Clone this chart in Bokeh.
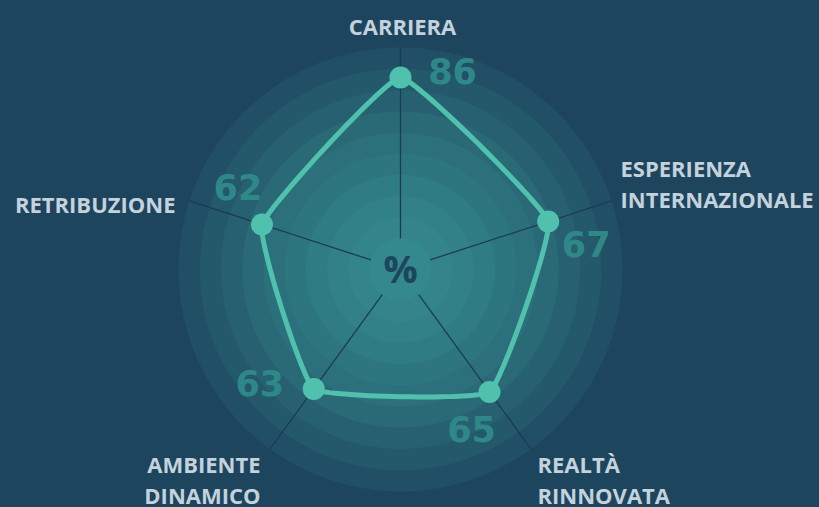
import numpy as np
from bokeh.plotting import figure
from bokeh.models import Range1d
from bokeh.embed import file_html
from bokeh.resources import INLINE
from bokeh.core.properties import value

# ---------------- data ----------------
categories = ["CARRIERA", "ESPERIENZA INTERNAZIONALE", "REALTÀ RINNOVATA",
              "AMBIENTE DINAMICO", "RETRIBUZIONE"]
label_lines = [["CARRIERA"], ["ESPERIENZA", "INTERNAZIONALE"], ["REALTÀ", "RINNOVATA"],
               ["AMBIENTE", "DINAMICO"], ["RETRIBUZIONE"]]
values = [86, 67, 65, 63, 62]
center_text = "%"

# ---------------- layout / style ----------------
W, H = 819, 507
BG = "#1e455e"
CX, CY = 400, 269
R0, K = 26.0, 1.93          # radial scale: r = R0 + K * value
R_IN, R_OUT = 31.0, 222.0
N_RINGS = 10
RING_COLOR = "#49b2a5"
LINE_COLOR = "#4fc1ad"
VAL_COLOR = "#2f8888"
LAB_COLOR = "#c3d2dc"
LAB_FONT = "Open Sans"
VAL_FONT = "DejaVu Sans"

# label anchors: (x, first line y, align)
label_anchor = [(402, 25, "center"), (620, 167, "left"), (537, 463, "left"),
                (260, 463, "right"), (175, 203, "right")]
LINE_STEP = 31
# value label offsets from the point (dx, dy)
val_offset = [(52, -7), (38, 22), (-18, 37), (-54, -6), (-24, -37)]

n = len(values)
angles = np.deg2rad(90 - 72 * np.arange(n))

def polar(r, a):
    return CX + r * np.cos(a), CY - r * np.sin(a)

p = figure(width=W, height=H, x_range=Range1d(0, W), y_range=Range1d(H, 0),
           output_backend="svg", toolbar_location=None,
           x_axis_type=None, y_axis_type=None, min_border=0,
           background_fill_color=BG, border_fill_color=BG, outline_line_color=None)
p.grid.visible = False

# concentric rings (stacked translucent discs)
radii = np.linspace(R_OUT, R_IN, N_RINGS)
for r in radii:
    p.circle(x=[CX], y=[CY], radius=r, fill_color=RING_COLOR, fill_alpha=0.1, line_color=None)

# spokes
sx0, sy0 = polar(R_IN, angles)
sx1, sy1 = polar(R_OUT, angles)
p.segment(x0=sx0, y0=sy0, x1=sx1, y1=sy1, line_color="#1b3c54", line_width=1.3)

# data polygon (closed cardinal spline)
rv = R0 + K * np.array(values, dtype=float)
px, py = polar(rv, angles)
pts = np.column_stack([px, py])

def cardinal_closed(P, tension=0.7, steps=30):
    out = []
    m = len(P)
    c = (1 - tension) / 2
    for i in range(m):
        p0, p1, p2, p3 = P[i - 1], P[i], P[(i + 1) % m], P[(i + 2) % m]
        m1 = c * (p2 - p0)
        m2 = c * (p3 - p1)
        for t in np.linspace(0, 1, steps, endpoint=False):
            h00 = 2 * t**3 - 3 * t**2 + 1
            h10 = t**3 - 2 * t**2 + t
            h01 = -2 * t**3 + 3 * t**2
            h11 = t**3 - t**2
            out.append(h00 * p1 + h10 * m1 + h01 * p2 + h11 * m2)
    out.append(out[0])
    return np.array(out)

curve = cardinal_closed(pts)
p.line(curve[:, 0], curve[:, 1], line_color=LINE_COLOR, line_width=5, line_join="round")
p.scatter(px, py, size=22, fill_color=LINE_COLOR, line_color=None)

# value labels
vx = [px[i] + val_offset[i][0] for i in range(n)]
vy = [py[i] + val_offset[i][1] for i in range(n)]
p.text(x=vx, y=vy, text=[str(v) for v in values], text_color=VAL_COLOR,
       text_font=value(VAL_FONT), text_font_style="bold", text_font_size="35px",
       text_align="center", text_baseline="alphabetic")

# category labels
for lines, (ax, ay, al) in zip(label_lines, label_anchor):
    p.text(x=[ax] * len(lines), y=[ay + LINE_STEP * j for j in range(len(lines))], text=lines,
           text_color=LAB_COLOR, text_font=value(LAB_FONT), text_font_style="bold",
           text_font_size="22px", text_align=al, text_baseline="alphabetic")

# center symbol
p.text(x=[CX], y=[CY - 2], text=[center_text], text_color=BG, text_font=value("Open Sans"),
       text_font_style="bold", text_font_size="38px", text_align="center", text_baseline="middle")

html = file_html(p, INLINE)
html = html.replace("</head>", "<style>html,body{margin:0;padding:0;background:%s;}</style></head>" % BG, 1)
open("out.html", "w").write(html)
